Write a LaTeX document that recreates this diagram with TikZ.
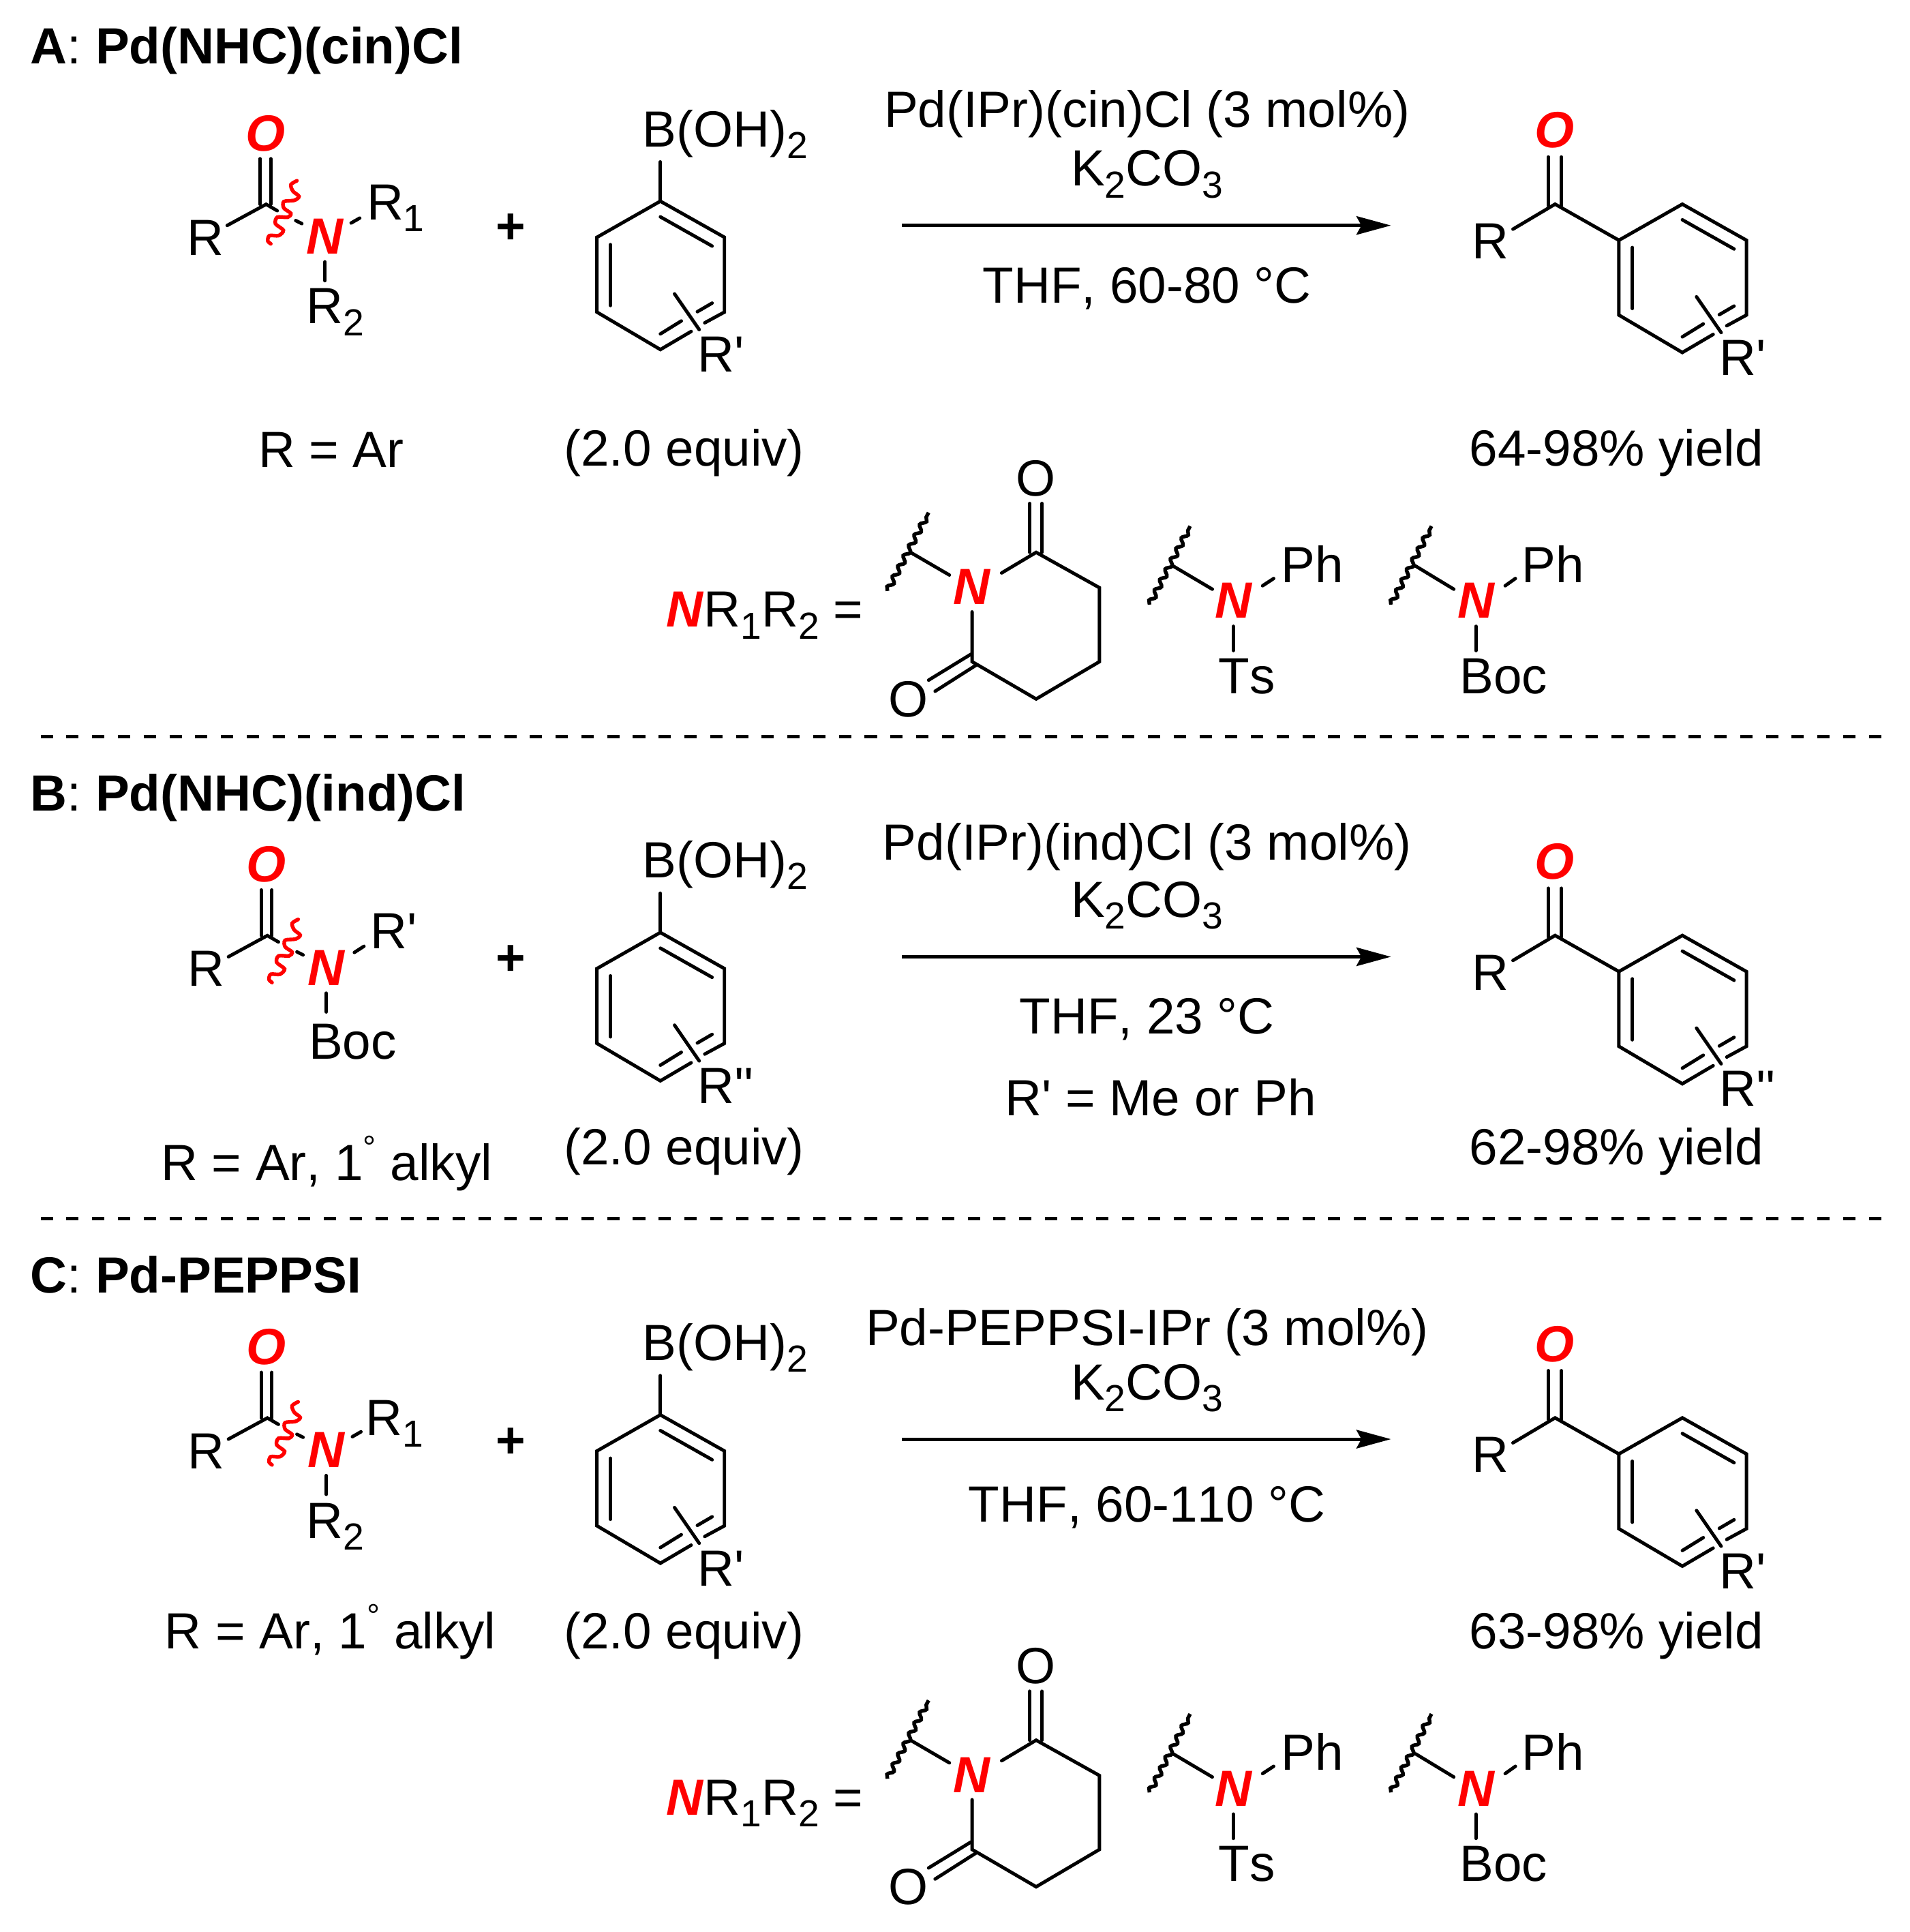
\documentclass[tikz,border=0pt]{standalone}
\usepackage{fontspec}
\usepackage{xcolor}
\newfontfamily\chemfont[Kerning=Off]{Liberation Sans}
\usetikzlibrary{decorations.pathmorphing,arrows.meta}
\newcommand{\lo}[1]{\raisebox{-2.7pt}{\fontsize{8.7}{10}\selectfont #1}}
\newcommand{\ring}{\raisebox{5pt}{\fontsize{7.5}{8}\selectfont °}}
\tikzset{
  bond/.style={line width=0.78pt,line cap=round},
  lab/.style={inner sep=0pt,anchor=base west},
  mid/.style={inner sep=0pt,anchor=base},
  hit/.style={inner sep=0pt,anchor=base,text=red,font=\chemfont\fontsize{11.75}{14}\selectfont\bfseries\itshape},
  cut/.style={line width=0.85pt,red,line cap=round},
  wavy/.style={line width=0.85pt,decorate,decoration={snake,segment length=0.095cm,amplitude=0.02cm}},
  sep/.style={line width=0.78pt,dash pattern=on 0.1cm off 0.109cm}
}
\begin{document}
\begin{tikzpicture}[font=\chemfont\fontsize{11.75}{14}\selectfont]
\useasboundingbox (0,0) rectangle (15.5,-15.68);
% titles
\node[lab] (titleA) at (0.24,-0.52) {\textbf{A}: \textbf{Pd(NHC)(cin)Cl}};
\node[lab] (titleB) at (0.24,-6.58) {\textbf{B}: \textbf{Pd(NHC)(ind)Cl}};
\node[lab] (titleC) at (0.24,-10.495) {\textbf{C}: \textbf{Pd-PEPPSI}};
% separators
\draw[sep] (0.33,-5.98) -- (15.27,-5.98);
\draw[sep] (0.33,-9.89) -- (15.27,-9.89);
% what the three panels share
\foreach \panel/\ax/\dy/\wy/\subst in {a/0/0/0.06/R',b/0.01/-5.935/0/R'',c/0.01/-9.85/0/R'}{
\begin{scope}[yshift=\dy cm]
% amide
\begin{scope}[xshift=\ax cm]
\node[hit] (oxo\panel) at (2.153,-1.224) {O};
\node[hit] (amine\panel) at (2.638,-2.06) {N};
\node[lab] (rest\panel) at (1.51,-2.07) {R};
\draw[bond] (2.11,-1.288) -- (2.11,-1.658);
\draw[bond] (2.197,-1.288) -- (2.197,-1.658);
\draw[bond] (1.844,-1.83) -- (2.16,-1.658) -- (2.25,-1.71);
\draw[bond] (2.40,-1.79) -- (2.45,-1.815);
\draw[bond] (2.638,-2.125) -- (2.638,-2.278);
\draw[cut,yshift=\wy cm] plot[smooth] coordinates {(2.410,-1.527) (2.361,-1.559) (2.378,-1.612) (2.427,-1.654) (2.389,-1.686) (2.304,-1.696) (2.304,-1.749) (2.361,-1.792) (2.336,-1.823) (2.251,-1.823) (2.236,-1.876) (2.300,-1.929) (2.262,-1.972) (2.188,-1.972) (2.173,-2.014) (2.198,-2.039)};
\end{scope}
\node[mid] (plus\panel) at (4.146,-1.98) {\textbf{+}};
% ring of the boronic acid, then the same ring in the ketone
\foreach \part/\rx/\ry in {boron/0/0,keto/8.295/-0.024}{
\begin{scope}[shift={(\rx,\ry)}]
\draw[bond] (5.61,-2.69) -- (5.36,-2.837) -- (4.845,-2.533) -- (4.845,-1.926) -- (5.36,-1.633) -- (5.88,-1.926) -- (5.88,-2.533) -- (5.72,-2.62);
\draw[bond] (5.36,-1.76) -- (5.78,-1.997);
\draw[bond] (4.955,-1.985) -- (4.955,-2.48);
\draw[bond] (5.36,-2.71) -- (5.53,-2.605);
\draw[bond] (5.66,-2.53) -- (5.78,-2.46);
\draw[bond] (5.475,-2.385) -- (5.675,-2.675);
\node[lab] (sub\part\panel) at (5.655,-3.02) {\subst};
\end{scope}
}
\node[lab] (acid\panel) at (5.21,-1.19) {B(OH)\lo{2}};
\draw[bond] (5.36,-1.314) -- (5.36,-1.633);
% ketone
\node[hit] (keto\panel) at (12.616,-1.2) {O};
\node[lab] (rket\panel) at (11.94,-2.10) {R};
\draw[bond] (12.567,-1.274) -- (12.567,-1.67);
\draw[bond] (12.673,-1.274) -- (12.673,-1.67);
\draw[bond] (12.28,-1.86) -- (12.622,-1.657) -- (13.14,-1.95);
% arrow
\coordinate (from\panel) at (7.32,-1.83);
\coordinate (to\panel) at (11.29,-1.83);
\draw[line width=0.78pt,-{Stealth[length=0.28cm,width=0.15cm,inset=0.04cm]}] (from\panel) -- (to\panel);
\node[mid] (base\panel) at (9.31,-1.51) {K\lo{2}CO\lo{3}};
\end{scope}
}
% panel A
\node[lab] (r1a) at (2.97,-1.786) {R\lo{1}};
\node[lab] (r2a) at (2.48,-2.628) {R\lo{2}};
\draw[bond] (2.85,-1.81) -- (2.92,-1.77);
\node[mid] (catA) at (9.31,-1.03) {Pd(IPr)(cin)Cl (3 mol\%)};
\node[mid] (solvA) at (9.31,-2.46) {THF, 60-80 °C};
\node[lab] (restA) at (2.09,-3.79) {R = Ar};
\node[lab] (eqA) at (4.57,-3.78) {(2.0 equiv)};
\node[lab] (yieldA) at (11.92,-3.78) {64-98\% yield};
% panel B
\node[lab] (rpB) at (3.0,-7.70) {R'};
\node[lab] (bocB) at (2.5,-8.595) {Boc};
\draw[bond] (2.876,-7.73) -- (2.954,-7.68);
\node[mid] (catB) at (9.31,-6.98) {Pd(IPr)(ind)Cl (3 mol\%)};
\node[mid] (solvB) at (9.31,-8.39) {THF, 23 °C};
\node[mid] (condB) at (9.42,-9.055) {R' = Me or Ph};
\node[lab] (restB) at (1.30,-9.58) {R = Ar, 1\ring{} alkyl};
\node[lab] (eqB) at (4.57,-9.45) {(2.0 equiv)};
\node[lab] (yieldB) at (11.92,-9.45) {62-98\% yield};
% panel C
\node[lab] (r1c) at (2.96,-11.65) {R\lo{1}};
\node[lab] (r2c) at (2.48,-12.485) {R\lo{2}};
\draw[bond] (2.86,-11.66) -- (2.93,-11.62);
\node[mid] (catC) at (9.31,-10.92) {Pd-PEPPSI-IPr (3 mol\%)};
\node[mid] (solvC) at (9.31,-12.35) {THF, 60-110 °C};
\node[lab] (restC) at (1.33,-13.38) {R = Ar, 1\ring{} alkyl};
\node[lab] (eqC) at (4.57,-13.38) {(2.0 equiv)};
\node[lab] (yieldC) at (11.92,-13.38) {63-98\% yield};
% amine groups
\foreach \grp/\dy in {a/0,c/-9.64}{
\begin{scope}[yshift=\dy cm]
\node[lab] (nrr\grp) at (5.40,-5.09) {\textcolor{red}{\textbf{\textit{N}}}R\lo{1}R\lo{2} =};
% imide
\node[hit] (imN\grp) at (7.885,-4.907) {N};
\node[mid] (imOa\grp) at (8.405,-4.025) {O};
\node[mid] (imOb\grp) at (7.373,-5.815) {O};
\draw[bond] (8.13,-4.65) -- (8.41,-4.483) -- (8.924,-4.77) -- (8.924,-5.37) -- (8.41,-5.673) -- (7.89,-5.37) -- (7.89,-4.966);
\draw[bond] (8.358,-4.086) -- (8.358,-4.483);
\draw[bond] (8.458,-4.086) -- (8.458,-4.483);
\draw[bond] (7.88,-5.31) -- (7.537,-5.52);
\draw[bond] (7.92,-5.40) -- (7.59,-5.61);
\draw[bond] (7.39,-4.483) -- (7.706,-4.667);
\draw[wavy] (7.203,-4.796) -- (7.537,-4.16);
% tosyl and boc amines
\node[hit] (tsN\grp) at (10.01,-5.018) {N};
\node[hit] (bocN\grp) at (11.979,-5.018) {N};
\node[lab] (phA\grp) at (10.393,-4.726) {Ph};
\node[lab] (phB\grp) at (12.346,-4.726) {Ph};
\node[lab] (ts\grp) at (9.883,-5.627) {Ts};
\node[lab] (boc\grp) at (11.84,-5.627) {Boc};
\draw[bond] (9.522,-4.594) -- (9.84,-4.782);
\draw[bond] (11.49,-4.594) -- (11.80,-4.782);
\draw[bond] (10.248,-4.754) -- (10.338,-4.695);
\draw[bond] (12.217,-4.754) -- (12.30,-4.695);
\draw[bond] (10.01,-5.083) -- (10.01,-5.28);
\draw[bond] (11.979,-5.083) -- (11.979,-5.28);
\draw[wavy] (9.33,-4.907) -- (9.66,-4.27);
\draw[wavy] (11.29,-4.907) -- (11.619,-4.27);
\end{scope}
}
\end{tikzpicture}
\end{document}
